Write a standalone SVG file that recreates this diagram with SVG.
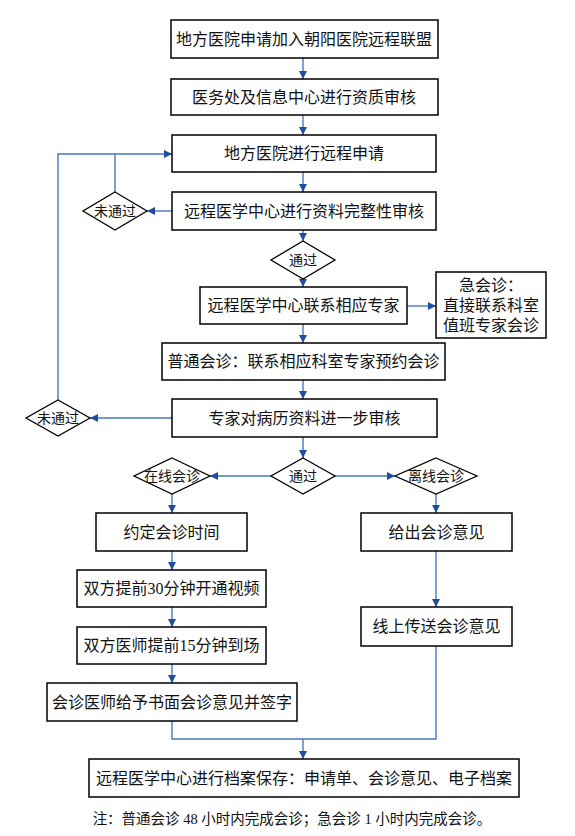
<svg xmlns="http://www.w3.org/2000/svg" width="575" height="836" viewBox="0 0 575 836">
<style>
.box{fill:#fff;stroke:#000;stroke-width:1.5}
.dia{fill:#fff;stroke:#000;stroke-width:1.3}
text{font-family:"Liberation Serif","Noto Sans CJK SC",serif;fill:#111;text-anchor:middle;dominant-baseline:central}
.t{font-size:16px}
.d{font-size:14px}
.n{font-size:14.5px}
.c{fill:none;stroke:#4a78bd;stroke-width:1.4}
</style>
<defs>
<marker id="a" markerUnits="userSpaceOnUse" markerWidth="8" markerHeight="8" refX="8" refY="4" orient="auto">
<path d="M0,0 L8,4 L0,8 z" fill="#1f4ea0"/>
</marker>
</defs>
<rect width="575" height="836" fill="#fff"/>
<g id="connectors">
<path class="c" d="M303,58 V79" marker-end="url(#a)"/>
<path class="c" d="M303,115 V135" marker-end="url(#a)"/>
<path class="c" d="M303,172 V192" marker-end="url(#a)"/>
<path class="c" d="M303,230 V241" marker-end="url(#a)"/>
<path class="c" d="M303,279 V287" marker-end="url(#a)"/>
<path class="c" d="M303,324 V343" marker-end="url(#a)"/>
<path class="c" d="M303,380 V399" marker-end="url(#a)"/>
<path class="c" d="M303,437 V458" marker-end="url(#a)"/>
<path class="c" d="M407,306 H436" marker-end="url(#a)"/>
<path class="c" d="M172,211 H147" marker-end="url(#a)"/>
<path class="c" d="M115,193 V154 H172" marker-end="url(#a)"/>
<path class="c" d="M58,400 V154 H115"/>
<path class="c" d="M172,418 H90" marker-end="url(#a)"/>
<path class="c" d="M271,476 H210" marker-end="url(#a)"/>
<path class="c" d="M335,476 H395" marker-end="url(#a)"/>
<path class="c" d="M172,494 V513" marker-end="url(#a)"/>
<path class="c" d="M436,494 V513" marker-end="url(#a)"/>
<path class="c" d="M172,551 V570" marker-end="url(#a)"/>
<path class="c" d="M172,607 V627" marker-end="url(#a)"/>
<path class="c" d="M172,664 V683" marker-end="url(#a)"/>
<path class="c" d="M436,551 V607" marker-end="url(#a)"/>
<path class="c" d="M172,721 V739 H436 V646"/>
<path class="c" d="M303,739 V759" marker-end="url(#a)"/>
</g>
<g id="n1"><rect class="box" x="171" y="20" width="267" height="38"/><text class="t" x="304" y="39">地方医院申请加入朝阳医院远程联盟</text></g>
<g id="n2"><rect class="box" x="171" y="79" width="267" height="36"/><text class="t" x="304" y="97">医务处及信息中心进行资质审核</text></g>
<g id="n3"><rect class="box" x="172" y="135" width="264" height="37"/><text class="t" x="304" y="153.5">地方医院进行远程申请</text></g>
<g id="n4"><rect class="box" x="172" y="192" width="264" height="38"/><text class="t" x="304" y="211">远程医学中心进行资料完整性审核</text></g>
<g id="d1"><polygon class="dia" points="115,192 147,211 115,230 83,211"/><text class="d" x="115" y="211">未通过</text></g>
<g id="d2"><polygon class="dia" points="303,241 335,260 303,279 271,260"/><text class="d" x="303" y="260">通过</text></g>
<g id="n5"><rect class="box" x="200" y="287" width="207" height="37"/><text class="t" x="303.5" y="305.5">远程医学中心联系相应专家</text></g>
<g id="n6"><rect class="box" x="436" y="272" width="110" height="66"/><text class="t" x="491" y="285">急会诊：</text><text class="t" x="491" y="305.5">直接联系科室</text><text class="t" x="491" y="325">值班专家会诊</text></g>
<g id="n7"><rect class="box" x="162" y="343" width="283" height="37"/><text class="t" x="303.5" y="361.5">普通会诊：联系相应科室专家预约会诊</text></g>
<g id="n8"><rect class="box" x="172" y="399" width="265" height="38"/><text class="t" x="304.5" y="418">专家对病历资料进一步审核</text></g>
<g id="d3"><polygon class="dia" points="58,400 90,418 58,436 26,418"/><text class="d" x="58" y="418">未通过</text></g>
<g id="d4"><polygon class="dia" points="303,458 335,476 303,494 271,476"/><text class="d" x="303" y="476">通过</text></g>
<g id="d5"><polygon class="dia" points="172,458 210,476 172,494 134,476"/><text class="d" x="172" y="476">在线会诊</text></g>
<g id="d6"><polygon class="dia" points="436,458 477,476 436,494 395,476"/><text class="d" x="436" y="476">离线会诊</text></g>
<g id="n9"><rect class="box" x="96" y="513" width="151" height="38"/><text class="t" x="171.5" y="532">约定会诊时间</text></g>
<g id="n10"><rect class="box" x="77" y="570" width="189" height="37"/><text class="t" x="171.5" y="588.5">双方提前30分钟开通视频</text></g>
<g id="n11"><rect class="box" x="77" y="627" width="189" height="37"/><text class="t" x="171.5" y="645.5">双方医师提前15分钟到场</text></g>
<g id="n12"><rect class="box" x="47" y="683" width="250" height="38"/><text class="t" x="172" y="702">会诊医师给予书面会诊意见并签字</text></g>
<g id="n13"><rect class="box" x="361" y="513" width="151" height="38"/><text class="t" x="436.5" y="532">给出会诊意见</text></g>
<g id="n14"><rect class="box" x="361" y="607" width="151" height="39"/><text class="t" x="436.5" y="626.5">线上传送会诊意见</text></g>
<g id="n15"><rect class="box" x="89" y="759" width="430" height="38"/><text class="t" x="304" y="778">远程医学中心进行档案保存：申请单、会诊意见、电子档案</text></g>
<text class="n" x="292" y="819">注：普通会诊 48 小时内完成会诊；急会诊 1 小时内完成会诊。</text>
</svg>
